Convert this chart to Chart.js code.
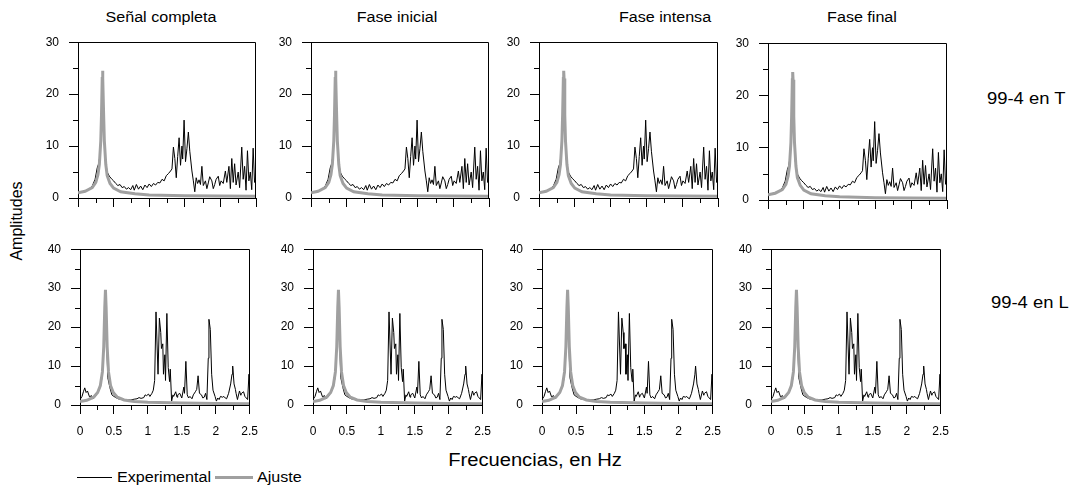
<!DOCTYPE html>
<html lang="es">
<head>
<meta charset="UTF-8">
<title>Espectros 99-4</title>
<script src="https://cdn.jsdelivr.net/npm/chart.js"></script>
<style>
    body {
        margin: 0;
        padding: 0;
        background: #fff;
        font-family: "Liberation Sans", Arial, sans-serif;
        color: #000;
    }
    #wrap {
        position: relative;
        width: 1077px;
        height: 489px;
        overflow: hidden;
    }
    .panel { position: absolute; }
    .txt { position: absolute; white-space: nowrap; line-height: 1; }
    /* el original viene algo estirado en horizontal */
    .st { transform: scaleX(1.15); transform-origin: 0 50%; }
    .title { font-size: 14px; top: 10px; transform: translateX(-50%) scaleX(1.15); }
    .row { font-size: 16px; }
    .leg { font-size: 14px; top: 470px; }
    .leg-line { position: absolute; height: 0; }
</style>
</head>
<body>
<div id="wrap">
    <div class="txt title" style="left:161px">Señal completa</div>
    <div class="txt title" style="left:397px">Fase inicial</div>
    <div class="txt title" style="left:665px">Fase intensa</div>
    <div class="txt title" style="left:862px">Fase final</div>

    <div class="txt row st" style="left:987px; top:91px">99-4 en T</div>
    <div class="txt row st" style="left:991px; top:295px">99-4 en L</div>

    <div class="txt" style="font-size:16px; left:-23px; top:213px; transform:rotate(-90deg)">Amplitudes</div>
    <div class="txt" style="font-size:18px; left:535px; top:451px; transform:translateX(-50%) scaleX(1.12)">Frecuencias, en Hz</div>

    <div class="leg-line" style="left:77px; top:477px; width:35px; border-top:1px solid #000"></div>
    <div class="txt leg st" style="left:117px">Experimental</div>
    <div class="leg-line" style="left:215px; top:476px; width:38px; border-top:3px solid #a0a0a0"></div>
    <div class="txt leg st" style="left:257px">Ajuste</div>
</div>

<script>
// espectro experimental, componente T
const freqT = [0.00, 0.05, 0.10, 0.15, 0.20, 0.24, 0.27, 0.29, 0.31, 0.33, 0.345, 0.36, 0.38, 0.41, 0.44, 0.47,
    0.50, 0.53, 0.56, 0.59, 0.62, 0.65, 0.68, 0.71, 0.74, 0.77, 0.79, 0.82, 0.85, 0.88, 0.91, 0.94, 0.97,
    1.00, 1.03, 1.06, 1.09, 1.12, 1.15, 1.18, 1.21, 1.24, 1.27, 1.30, 1.32, 1.34, 1.36, 1.38, 1.40, 1.42,
    1.44, 1.46, 1.47, 1.49, 1.51, 1.53, 1.55, 1.57, 1.60, 1.62, 1.64, 1.66, 1.68, 1.70, 1.72, 1.74, 1.76,
    1.79, 1.81, 1.83, 1.85, 1.88, 1.90, 1.92, 1.94, 1.97, 1.99, 2.01, 2.04, 2.07, 2.09, 2.12, 2.14, 2.16,
    2.18, 2.20, 2.22, 2.25, 2.27, 2.30, 2.32, 2.34, 2.36, 2.38, 2.40, 2.42, 2.44, 2.46, 2.48, 2.50];
const ampT = [1.1, 1.2, 1.4, 1.7, 2.3, 3.6, 5.8, 6.6, 8.3, 15, 24, 14, 7.5, 5.0, 4.2, 3.7,
    3.3, 2.8, 2.4, 2.6, 2.0, 2.2, 1.7, 2.0, 1.6, 2.4, 1.5, 2.6, 1.7, 2.3, 1.6, 2.5, 2.0,
    2.7, 2.2, 2.8, 2.5, 3.0, 2.9, 3.6, 3.3, 4.3, 4.7, 5.2, 5.6, 9.8, 7.6, 3.9, 8.0, 11.6,
    6.3, 10.0, 7.5, 15.0, 7.0, 9.5, 12.7, 9.0, 5.2, 3.3, 1.2, 3.9, 2.8, 3.5, 2.6, 6.1, 2.4,
    3.3, 1.8, 2.9, 4.1, 3.3, 1.8, 2.6, 3.6, 4.2, 2.4, 3.3, 2.8, 5.2, 3.0, 6.1, 1.8, 7.6,
    3.0, 6.6, 2.5, 5.0, 2.0, 9.8, 3.6, 6.1, 1.5, 9.1, 3.3, 5.0, 1.6, 9.6, 3.0, 4.5];

// ajuste, componente T
const fitFreqT = [0, 0.10, 0.20, 0.25, 0.28, 0.30, 0.32, 0.33, 0.34, 0.345, 0.35, 0.36, 0.37, 0.39, 0.41,
    0.45, 0.50, 0.60, 0.80, 1.00, 1.50, 2.00, 2.50];
const fitAmpT = [1.0, 1.3, 2.0, 3.0, 4.5, 6.5, 11, 16, 23, 24.5, 23, 16, 11, 6.5, 4.3,
    2.8, 1.9, 1.2, 0.8, 0.6, 0.45, 0.4, 0.35];

// espectro experimental, componente L
const freqL = [0.00, 0.03, 0.05, 0.07, 0.09, 0.11, 0.14, 0.17, 0.19, 0.22, 0.24, 0.28, 0.31, 0.33, 0.355,
    0.375, 0.39, 0.41, 0.44, 0.47, 0.50, 0.53, 0.56, 0.60, 0.63, 0.66, 0.70, 0.75, 0.80, 0.84, 0.87, 0.90,
    0.94, 0.96, 0.98, 1.01, 1.03, 1.06, 1.08, 1.10, 1.12, 1.15, 1.17, 1.19, 1.20, 1.22, 1.23, 1.25, 1.26,
    1.28, 1.30, 1.32, 1.33, 1.35, 1.37, 1.38, 1.41, 1.43, 1.44, 1.47, 1.50, 1.53, 1.54, 1.56, 1.58, 1.60,
    1.62, 1.65, 1.67, 1.70, 1.72, 1.74, 1.76, 1.79, 1.81, 1.83, 1.85, 1.87, 1.89, 1.90, 1.92, 1.94, 1.96,
    1.99, 2.01, 2.03, 2.05, 2.07, 2.10, 2.12, 2.14, 2.16, 2.19, 2.22, 2.24, 2.25, 2.27, 2.29, 2.30, 2.32,
    2.35, 2.37, 2.38, 2.41, 2.43, 2.45, 2.47, 2.49, 2.50];
const ampL = [1.4, 2.2, 3.4, 4.4, 3.2, 3.6, 2.1, 2.4, 1.6, 2.0, 2.6, 3.8, 5.5, 7.9, 18,
    29, 18, 7.0, 4.5, 2.6, 2.2, 1.9, 1.6, 1.5, 1.4, 1.4, 1.3, 1.3, 1.5, 1.6, 1.9, 1.7,
    1.9, 2.6, 2.4, 2.8, 2.2, 3.0, 3.8, 6.3, 23.9, 7.9, 22.3, 18.6, 14.5, 15.7, 7.9, 12.9, 6.3,
    23.5, 9.6, 6.0, 9.2, 1.0, 2.6, 2.2, 3.4, 2.0, 2.6, 3.0, 1.8, 4.6, 3.0, 11.2, 2.6, 1.8,
    2.2, 1.6, 2.6, 3.4, 4.0, 7.5, 3.0, 2.6, 1.8, 2.0, 3.0, 1.4, 12.0, 22.0, 19.4, 7.9, 3.8,
    2.2, 1.0, 1.8, 1.4, 2.2, 2.0, 2.2, 1.8, 1.6, 3.0, 5.4, 7.9, 10.0, 5.4, 4.0, 3.0, 1.4,
    3.6, 2.5, 3.0, 3.4, 2.2, 1.8, 1.4, 7.9, 3.0];

// ajuste, componente L
const fitFreqL = [0, 0.10, 0.20, 0.26, 0.30, 0.33, 0.35, 0.365, 0.375, 0.385, 0.40, 0.42, 0.45, 0.49,
    0.55, 0.65, 0.80, 1.00, 1.50, 2.00, 2.50];
const fitAmpL = [0.9, 1.2, 2.0, 3.2, 5.0, 8.5, 15, 25, 29.6, 25, 15, 8.5, 5.0, 3.2,
    2.0, 1.3, 0.9, 0.7, 0.5, 0.4, 0.35];

const yTicksT = [0, 10, 20, 30];
const yTicksL = [0, 10, 20, 30, 40];
const xTicks = [0, 0.5, 1, 1.5, 2, 2.5];

// cajas del area de trazado (px) -- solo posicion
const boxesT = [[78, 35, 256, 198], [311, 35, 489, 198], [539, 35, 718, 198], [768, 36, 947, 200]];
const boxesL = [[80, 242, 258, 405], [313, 242, 491, 405], [542, 242, 721, 405], [771, 242, 949, 405]];

const PADL = 60, PADT = 10, PADR = 10, PADB = 40;
const FONT = "'Liberation Sans', Arial, sans-serif";

function isMajor(v, list) {
    return list.some(t => Math.abs(t - v) < 1e-6);
}

// marco completo + marcas menores cortas
const framePlugin = {
    id: 'frame',
    afterDraw(chart) {
        const a = chart.chartArea, c = chart.ctx;
        c.save();
        c.strokeStyle = '#000';
        c.lineWidth = 1;
        c.beginPath();
        const top = Math.round(a.top) + 0.5, right = Math.round(a.right) - 0.5;
        c.moveTo(Math.round(a.left), top);
        c.lineTo(right, top);
        c.lineTo(right, Math.round(a.bottom));
        c.stroke();

        const xs = chart.scales.x, ys = chart.scales.y;
        const yt = chart.options.plugins.frame.yTicks;
        c.beginPath();
        xs.ticks.forEach(t => {
            if (isMajor(t.value, xTicks)) return;
            const px = Math.round(xs.getPixelForValue(t.value)) + 0.5;
            c.moveTo(px, a.bottom);
            c.lineTo(px, a.bottom + 5);
        });
        ys.ticks.forEach(t => {
            if (isMajor(t.value, yt)) return;
            const py = Math.round(ys.getPixelForValue(t.value)) + 0.5;
            c.moveTo(a.left - 5, py);
            c.lineTo(a.left, py);
        });
        c.stroke();
        c.restore();
    }
};

function makePanel(box, yMax, yTicks, f, amp, ff, fa, showX) {
    const [l, t, r, b] = box;
    const w = r - l + PADL + PADR, h = b - t + PADT + PADB;
    const cv = document.createElement('canvas');
    cv.className = 'panel';
    cv.width = w; cv.height = h;
    cv.style.left = (l - PADL) + 'px';
    cv.style.top = (t - PADT) + 'px';
    cv.style.width = w + 'px';
    cv.style.height = h + 'px';
    document.getElementById('wrap').appendChild(cv);

    new Chart(cv.getContext('2d'), {
        type: 'line',
        data: {
            datasets: [
                {
                    label: 'Ajuste',
                    data: ff.map((x, i) => ({ x: x, y: fa[i] })),
                    borderColor: '#a0a0a0',
                    borderWidth: 3,
                    pointRadius: 0,
                    tension: 0,
                    order: 1
                },
                {
                    label: 'Experimental',
                    data: f.map((x, i) => ({ x: x, y: amp[i] })),
                    borderColor: '#000',
                    borderWidth: 1,
                    pointRadius: 0,
                    tension: 0,
                    order: 2
                }
            ]
        },
        options: {
            responsive: false,
            animation: false,
            layout: { padding: { left: 0, top: PADT, right: PADR, bottom: 0 } },
            plugins: {
                legend: { display: false },
                tooltip: { enabled: false },
                frame: { yTicks: yTicks }
            },
            scales: {
                x: {
                    type: 'linear',
                    min: 0,
                    max: 2.5,
                    afterFit: s => { s.height = PADB; },
                    border: { color: '#000', width: 1 },
                    grid: {
                        drawOnChartArea: false,
                        tickLength: 9,
                        tickColor: ctx => isMajor(ctx.tick.value, xTicks) ? '#000' : 'rgba(0,0,0,0)'
                    },
                    ticks: {
                        stepSize: 0.25,
                        autoSkip: false,
                        maxRotation: 0,
                        padding: 10,
                        color: '#000',
                        font: { family: FONT, size: 12 },
                        callback: v => (showX && isMajor(v, xTicks)) ? String(Math.round(v * 10) / 10) : ''
                    }
                },
                y: {
                    min: 0,
                    max: yMax,
                    afterFit: s => { s.width = PADL; },
                    border: { color: '#000', width: 1 },
                    grid: {
                        drawOnChartArea: false,
                        tickLength: 9,
                        tickColor: ctx => isMajor(ctx.tick.value, yTicks) ? '#000' : 'rgba(0,0,0,0)'
                    },
                    ticks: {
                        stepSize: 5,
                        padding: 10,
                        color: '#000',
                        font: { family: FONT, size: 12 },
                        callback: v => isMajor(v, yTicks) ? String(v) : ''
                    }
                }
            }
        },
        plugins: [framePlugin]
    });
}

boxesT.forEach(bx => makePanel(bx, 30, yTicksT, freqT, ampT, fitFreqT, fitAmpT, false));
boxesL.forEach(bx => makePanel(bx, 40, yTicksL, freqL, ampL, fitFreqL, fitAmpL, true));
</script>
</body>
</html>
